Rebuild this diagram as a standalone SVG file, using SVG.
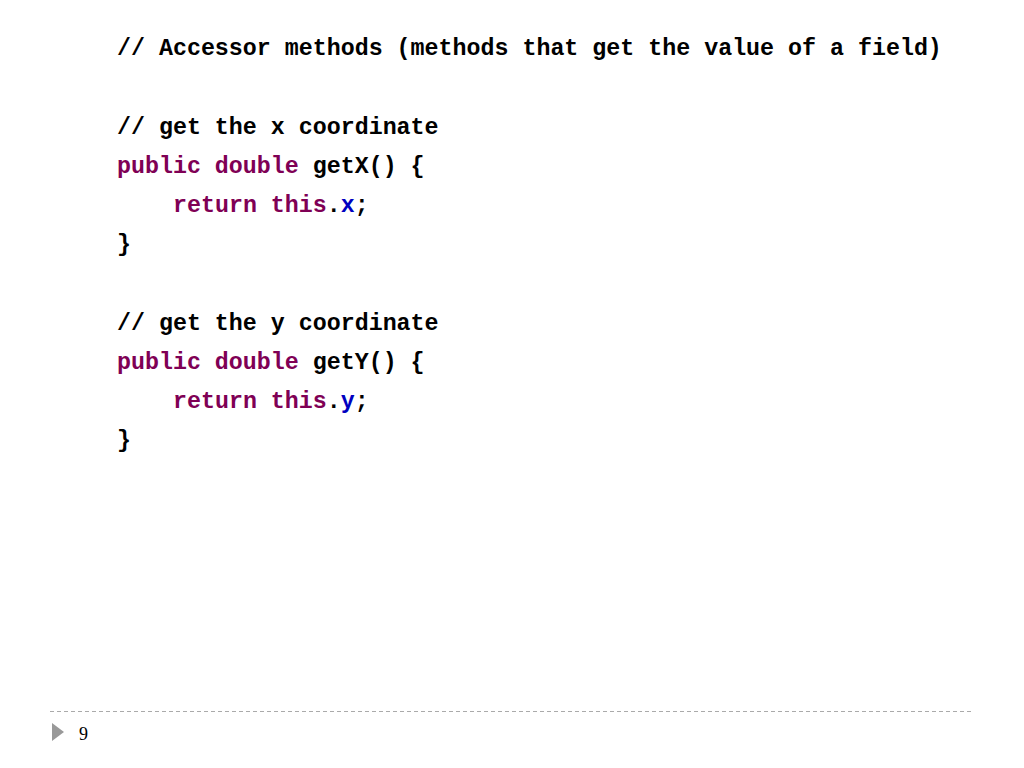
<svg xmlns="http://www.w3.org/2000/svg" width="1024" height="768" viewBox="0 0 1024 768">
<style>
text.c{font-family:"Liberation Mono","DejaVu Sans Mono",monospace;font-weight:bold;font-size:23.3px;fill:#000}
.cm{fill:#3F5FBF}.kw{fill:#7F0055}.f{fill:#0000C0}
</style>
<rect width="1024" height="768" fill="#fff"/>
<text class="c cm" x="117" y="55">// Accessor methods (methods that get the value of a field)</text>
<text class="c cm" x="117" y="134">// get the x coordinate</text>
<text class="c" x="117" y="173"><tspan class="kw">public double</tspan> getX() {</text>
<text class="c" x="173" y="212"><tspan class="kw">return this</tspan>.<tspan class="f">x</tspan>;</text>
<text class="c" x="117" y="251">}</text>
<text class="c cm" x="117" y="330">// get the y coordinate</text>
<text class="c" x="117" y="369"><tspan class="kw">public double</tspan> getY() {</text>
<text class="c" x="173" y="408"><tspan class="kw">return this</tspan>.<tspan class="f">y</tspan>;</text>
<text class="c" x="117" y="447">}</text>
<line x1="50" y1="711.5" x2="972" y2="711.5" stroke="#aaa" stroke-width="1" stroke-dasharray="4,3"/>
<polygon points="52,723 64,732 52,741" fill="#999"/>
<text x="79" y="740" font-family="Liberation Serif,serif" font-size="18" fill="#000">9</text>
</svg>
